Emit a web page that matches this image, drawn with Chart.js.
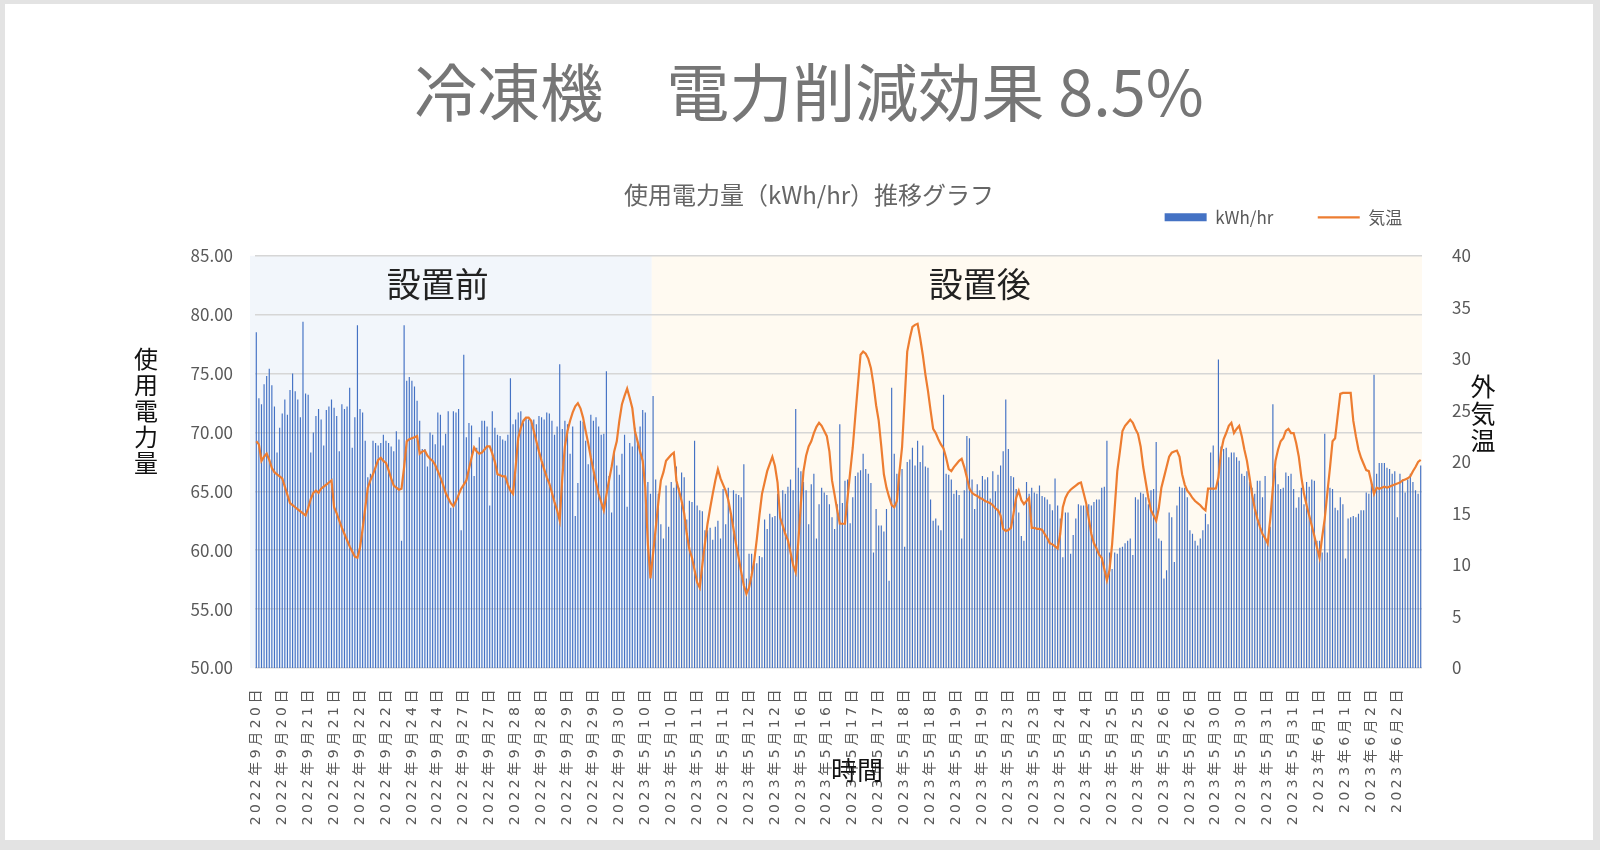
<!DOCTYPE html>
<html lang="ja">
<head>
<meta charset="utf-8">
<title>冷凍機 電力削減効果</title>
<script src="https://cdn.jsdelivr.net/npm/chart.js@4.4.1/dist/chart.umd.min.js"></script>
<style>
  html, body { margin: 0; padding: 0; background: #fff; }
  #wrap { position: relative; width: 1600px; height: 850px; }
  #frame { position: absolute; inset: 0; border-style: solid; border-color: #e3e3e3;
           border-width: 4px 7px 10px 5px; pointer-events: none; }
</style>
</head>
<body>
<div id="wrap">
  <canvas id="chart" width="1600" height="850"></canvas>
  <div id="frame"></div>
</div>
<script>
// x axis: one label every 10 readings
const tickLabels = [
  '2022年9月20日', '2022年9月20日', '2022年9月21日', '2022年9月21日', '2022年9月22日',
  '2022年9月22日', '2022年9月24日', '2022年9月24日', '2022年9月27日', '2022年9月27日',
  '2022年9月28日', '2022年9月28日', '2022年9月29日', '2022年9月29日', '2022年9月30日',
  '2023年5月10日', '2023年5月10日', '2023年5月11日', '2023年5月11日', '2023年5月12日',
  '2023年5月12日', '2023年5月16日', '2023年5月16日', '2023年5月17日', '2023年5月17日',
  '2023年5月18日', '2023年5月18日', '2023年5月19日', '2023年5月19日', '2023年5月23日',
  '2023年5月23日', '2023年5月24日', '2023年5月24日', '2023年5月25日', '2023年5月25日',
  '2023年5月26日', '2023年5月26日', '2023年5月30日', '2023年5月30日', '2023年5月31日',
  '2023年5月31日', '2023年6月1日', '2023年6月1日', '2023年6月2日', '2023年6月2日'
];

// kWh/hr before installation (2022)
const kwhBefore = [
  78.5, 72.9, 72.4, 74.1, 74.8, 75.4, 74.0, 72.2, 68.3, 70.4,
  71.6, 72.8, 71.5, 73.6, 75.0, 73.5, 72.8, 71.3, 79.4, 73.3,
  73.2, 68.3, 70.0, 71.4, 72.0, 71.1, 68.9, 71.9, 72.2, 72.8,
  72.1, 71.4, 68.4, 72.4, 72.0, 72.2, 73.8, 68.7, 71.3, 79.1,
  72.0, 71.7, 69.3, 66.2, 66.5, 69.3, 69.1, 68.9, 69.1, 69.8,
  69.3, 69.1, 68.8, 68.4, 70.1, 69.4, 60.8, 79.1, 74.4, 74.7,
  74.4, 73.9, 72.7, 71.0, 68.6, 68.6, 67.1, 70.0, 69.8, 69.0,
  71.7, 71.5, 68.9, 69.9, 71.8, 63.6, 71.8, 71.7, 72.0, 61.7,
  76.6, 69.6, 70.8, 70.6, 66.3, 68.7, 69.6, 71.0, 71.0, 70.5,
  63.8, 71.8, 70.4, 69.8, 69.7, 69.4, 69.3, 69.8, 74.6, 70.7,
  71.1, 71.7, 71.8, 70.8, 71.3, 71.1, 71.0, 71.1, 70.7, 71.4,
  71.3, 71.1, 71.7, 71.6, 71.0, 69.8, 70.5, 75.8, 70.3, 71.0,
  70.7, 68.2, 70.5, 62.9, 65.7, 71.0, 70.9, 69.3, 67.3, 71.5,
  71.0, 71.3, 70.5, 69.8, 69.9, 75.2, 66.3, 63.2, 68.3, 67.2,
  66.4, 68.2, 69.8, 63.7, 69.1, 68.8, 70.4, 69.3, 70.5, 71.9,
  71.7, 65.8, 64.8
];

// kWh/hr after installation (2023)
const kwhAfter = [
  73.1, 66.0, 64.8, 62.2, 61.0, 65.5, 62.0, 65.8, 65.3, 67.1,
  65.3, 66.6, 66.2, 62.6, 64.2, 64.1, 69.3, 63.8, 63.4, 63.3,
  61.7, 61.7, 61.9, 60.9, 62.0, 62.5, 61.0, 65.2, 62.2, 65.3,
  63.0, 65.1, 64.8, 64.7, 64.5, 67.3, 57.6, 59.7, 59.7, 58.9,
  58.9, 59.5, 59.4, 62.6, 61.8, 63.1, 62.8, 62.9, 64.8, 63.2,
  65.1, 64.8, 65.4, 66.0, 65.1, 72.0, 67.0, 66.7, 65.8, 65.1,
  62.2, 65.6, 66.5, 61.0, 63.9, 65.3, 64.9, 64.7, 63.9, 62.8,
  61.8, 63.9, 70.7, 64.0, 65.9, 66.0, 62.3, 64.5, 66.3, 66.6,
  66.8, 68.2, 66.9, 66.5, 65.7, 59.8, 63.5, 62.1, 62.1, 61.6,
  63.5, 57.4, 73.8, 68.2, 66.5, 66.6, 66.9, 60.3, 67.5, 67.7,
  68.7, 67.2, 69.3, 67.5, 68.9, 67.1, 67.0, 64.3, 62.5, 62.7,
  62.1, 61.7, 73.2, 66.5, 66.4, 66.0, 64.8, 65.1, 64.7, 61.0,
  65.1, 69.7, 69.5, 66.0, 63.5, 65.6, 65.1, 66.3, 66.0, 66.2,
  64.4, 66.7, 65.0, 66.4, 67.2, 68.4, 72.8, 68.6, 66.3, 66.2,
  65.2, 63.2, 61.2, 60.8, 65.8, 64.8, 65.3, 64.9, 64.8, 65.5,
  64.6, 64.5, 64.3, 63.9, 63.4, 66.1, 63.8, 62.7, 59.4, 63.2,
  63.2, 59.7, 61.3, 62.7, 63.9, 63.8, 63.8, 63.8, 63.9, 63.8,
  64.1, 64.3, 64.3, 65.3, 65.4, 69.3, 59.8, 58.4, 59.8, 59.7,
  60.2, 60.3, 60.6, 60.8, 61.0, 59.6, 64.5, 64.3, 64.9, 64.8,
  64.5, 63.9, 65.1, 65.2, 69.2, 61.0, 60.8, 57.6, 58.3, 63.2,
  62.8, 59.0, 63.8, 65.4, 65.3, 65.3, 64.5, 61.7, 61.4, 60.8,
  60.4, 61.0, 61.7, 63.1, 62.2, 68.3, 68.9, 65.1, 76.2, 68.8,
  68.6, 68.7, 67.9, 68.3, 68.3, 67.9, 67.6, 66.5, 66.3, 66.7,
  65.8, 65.3, 64.8, 65.9, 65.9, 64.5, 66.3, 60.7, 62.0, 72.4,
  67.0, 65.6, 65.2, 65.3, 66.6, 66.3, 66.5, 65.2, 63.6, 64.5,
  65.3, 63.9, 65.8, 65.4, 66.0, 65.9, 60.8, 60.8, 59.8, 69.9,
  59.8, 65.3, 65.2, 63.6, 63.4, 64.5, 63.9, 59.3, 62.7, 62.8,
  62.9, 62.8, 63.1, 63.4, 63.4, 64.9, 64.8, 65.8, 74.9, 66.5,
  67.4, 67.4, 67.4, 67.0, 66.9, 66.5, 66.7, 62.8, 66.5, 66.0,
  64.9, 66.0, 66.5, 65.8, 65.1, 64.8, 67.2
];

// outside air temperature, same time steps
const temperature = [
  22.0, 21.7, 20.1, 20.5, 20.8, 20.2, 19.4, 19.0, 18.8, 18.6,
  18.4, 17.6, 16.8, 16.0, 15.8, 15.6, 15.4, 15.2, 15.0, 14.8,
  15.5, 16.4, 17.0, 17.2, 17.0, 17.4, 17.6, 17.8, 18.0, 18.2,
  15.6, 15.0, 14.3, 13.6, 13.0, 12.4, 11.8, 11.3, 10.8, 10.7,
  11.7, 13.5, 15.5, 17.5, 18.2, 18.8, 19.5, 20.2, 20.4, 20.1,
  19.9, 19.2, 18.4, 17.7, 17.5, 17.3, 17.4, 19.5, 22.0, 22.2,
  22.3, 22.4, 22.5, 20.8, 21.0, 21.1, 20.6, 20.3, 20.1, 19.7,
  19.1, 18.5, 17.8, 17.0, 16.5, 16.0, 15.7, 16.2, 16.8, 17.4,
  17.8, 18.2, 19.3, 20.4, 21.4, 21.0, 20.8, 20.9, 21.2, 21.5,
  21.5, 20.8, 20.0, 18.8, 18.7, 18.6, 18.6, 17.8, 17.2, 16.9,
  19.5, 22.3, 23.3, 24.0, 24.3, 24.3, 24.0, 23.0, 22.0, 21.0,
  20.1, 19.3, 18.5, 17.9, 17.0, 16.1, 15.3, 14.3, 18.5, 21.5,
  23.0, 24.0, 24.8, 25.4, 25.7, 25.2, 24.3, 23.0, 21.8, 20.4,
  19.2, 18.0, 16.9, 16.1, 15.3, 16.8, 18.2, 19.5, 21.0, 22.0,
  24.0, 25.6, 26.4, 27.1, 26.2, 25.2, 23.0, 22.0, 21.0, 20.1,
  17.5, 12.0, 8.7, 11.1, 13.5, 16.0, 18.2, 19.0, 20.1, 20.4,
  20.7, 20.9, 18.2, 17.2, 16.2, 15.0, 13.0, 11.5, 10.7, 9.5,
  8.3, 7.8, 10.0, 12.1, 14.0, 15.5, 16.9, 18.2, 19.3, 18.4,
  17.8, 17.2, 16.3, 15.0, 13.5, 12.0, 10.7, 9.3, 8.0, 7.2,
  7.8, 9.0, 10.4, 12.5, 14.8, 16.9, 18.0, 19.1, 19.8, 20.5,
  19.6, 18.0, 14.6, 13.8, 13.0, 12.4, 11.2, 10.0, 9.3, 12.2,
  16.0, 19.1, 20.6, 21.5, 22.0, 22.8, 23.4, 23.8, 23.5, 23.0,
  22.5, 21.0, 18.2, 16.8, 15.3, 14.0, 14.0, 14.0, 16.5, 19.0,
  21.4, 24.5, 27.5, 30.4, 30.7, 30.5, 30.0, 29.1, 27.5, 25.5,
  24.0, 21.5, 18.8, 17.5, 16.6, 15.8, 15.6, 16.2, 19.0, 21.4,
  26.0, 30.7, 32.0, 33.1, 33.3, 33.4, 32.0, 30.4, 28.5, 26.9,
  25.0, 23.2, 22.8, 22.2, 21.7, 21.3, 20.4, 19.3, 19.1, 19.5,
  19.8, 20.1, 20.3, 19.5, 18.5, 17.4, 17.0, 16.8, 16.7, 16.5,
  16.4, 16.2, 16.1, 16.0, 15.8, 15.5, 15.3, 14.8, 13.5, 13.3,
  13.4, 13.6, 15.0, 16.5, 17.2, 16.3, 15.9, 16.2, 16.5, 13.6,
  13.6, 13.5, 13.5, 13.4, 13.0, 12.6, 12.1, 12.0, 11.8, 11.6,
  13.0, 15.6, 16.5, 17.0, 17.3, 17.5, 17.7, 17.9, 18.0, 17.0,
  16.0, 14.5, 13.0, 12.1, 11.6, 11.0, 10.7, 9.6, 8.5, 9.5,
  12.0, 15.5, 19.1, 21.0, 23.0, 23.5, 23.8, 24.1, 23.8, 23.2,
  22.7, 21.5, 19.5, 18.0, 16.5, 15.3, 14.8, 14.3, 15.5, 17.5,
  18.5, 19.5, 20.5, 20.9, 21.0, 21.1, 20.5, 18.8, 17.8, 17.2,
  16.9, 16.5, 16.2, 16.0, 15.8, 15.5, 15.3, 17.4, 17.4, 17.4,
  17.4, 18.5, 21.0, 22.2, 22.8, 23.5, 23.8, 22.8, 23.2, 23.5,
  22.5, 21.2, 20.1, 18.5, 16.8, 15.5, 14.5, 13.7, 13.0, 12.6,
  12.1, 14.5, 17.5, 20.1, 21.2, 22.0, 22.3, 23.0, 23.2, 22.8,
  22.8, 21.8, 20.5, 18.5, 16.9, 15.8, 14.8, 13.8, 12.8, 11.7,
  10.7, 12.7, 14.5, 17.0, 19.4, 22.0, 22.3, 24.5, 26.6, 26.7,
  26.7, 26.7, 26.7, 24.0, 22.5, 21.2, 20.4, 19.8, 19.2, 19.1,
  18.0, 16.9, 17.5, 17.4, 17.5, 17.6, 17.5, 17.6, 17.7, 17.8,
  17.9, 18.0, 18.2, 18.3, 18.4, 18.6, 19.1, 19.5, 20.0, 20.2
];

const kwh = kwhBefore.concat(kwhAfter);
const perLabel = 10;
const labels = kwh.map((v, i) => tickLabels[Math.floor(i / perLabel)]);

const CJK = "'Noto Sans CJK JP', sans-serif";
const GRAY = '#595959';

// shaded "before" / "after" areas behind the grid
const periodShade = {
  id: 'periodShade',
  beforeDraw(chart) {
    const { ctx, chartArea: a, scales: { x, y } } = chart;
    const n = kwhBefore.length;
    const split = (x.getPixelForValue(n - 1) + x.getPixelForValue(n)) / 2;
    const top = y.getPixelForValue(85);
    ctx.save();
    ctx.fillStyle = '#F2F6FB';
    ctx.fillRect(a.left - 5, top, split - a.left + 5, a.bottom - top);
    ctx.fillStyle = '#FFFAF1';
    ctx.fillRect(split, top, a.right - split, a.bottom - top);
    ctx.restore();
  }
};

// wider spacing for the rotated date labels
const spacedTicks = {
  id: 'spacedTicks',
  beforeDraw(chart) {
    const sc = chart.scales.x;
    if (sc._spaced) return;
    const orig = sc.drawLabels;
    sc.drawLabels = function (area) {
      this.ctx.save();
      this.ctx.letterSpacing = '3.5px';
      orig.call(this, area);
      this.ctx.restore();
    };
    sc._spaced = true;
  }
};

function stacked(ctx, text, cx, cy, step) {
  const chars = Array.from(text);
  const y0 = cy - (chars.length - 1) * step / 2;
  chars.forEach((ch, i) => ctx.fillText(ch, cx, y0 + i * step));
}

// period names and axis titles
const notes = {
  id: 'notes',
  afterDraw(chart) {
    const { ctx, scales: { x, y } } = chart;
    ctx.save();
    ctx.textAlign = 'center';
    ctx.textBaseline = 'middle';
    ctx.fillStyle = '#222';
    ctx.font = '34px ' + CJK;
    ctx.fillText('設置前', x.getPixelForValue(70), y.getPixelForValue(82.6));
    ctx.fillText('設置後', x.getPixelForValue(279), y.getPixelForValue(82.6));
    ctx.fillStyle = '#111';
    ctx.font = '24px ' + CJK;
    stacked(ctx, '使用電力量', 146, 411, 26);
    ctx.font = '25px ' + CJK;
    stacked(ctx, '外気温', 1483, 413, 27);
    ctx.font = '26px ' + CJK;
    ctx.fillText('時間', 857, 770);
    ctx.restore();
  }
};

new Chart(document.getElementById('chart'), {
  type: 'bar',
  data: {
    labels: labels,
    datasets: [
      {
        type: 'bar',
        label: 'kWh/hr',
        data: kwh,
        xAxisID: 'x',
        yAxisID: 'y',
        backgroundColor: '#4472C4',
        borderWidth: 0,
        barPercentage: 0.45,
        categoryPercentage: 1,
        pointStyle: 'rect',
        order: 1
      },
      {
        type: 'line',
        label: '気温',
        data: temperature,
        xAxisID: 'x',
        yAxisID: 'y1',
        borderColor: '#ED7D31',
        backgroundColor: '#ED7D31',
        borderWidth: 2.2,
        pointRadius: 0,
        pointStyle: 'line',
        tension: 0,
        order: 0
      }
    ]
  },
  options: {
    responsive: false,
    animation: false,
    layout: { padding: { top: 10, left: 118, right: 100, bottom: 10 } },
    plugins: {
      title: {
        display: true,
        text: '冷凍機　電力削減効果 8.5%',
        color: '#767676',
        font: { family: CJK, size: 63, weight: 'normal', lineHeight: 1.2 },
        padding: { top: 44, bottom: 0 }
      },
      subtitle: {
        display: true,
        text: '使用電力量（kWh/hr）推移グラフ',
        color: '#666',
        font: { family: CJK, size: 24, lineHeight: 0.6 },
        padding: { top: 57.8, bottom: 0 }
      },
      legend: {
        position: 'top',
        align: 'end',
        fullSize: false,
        labels: {
          usePointStyle: true,
          pointStyleWidth: 42,
          boxHeight: 8,
          padding: 7,
          color: GRAY,
          font: { family: CJK, size: 17 },
          sort: (a, b) => a.datasetIndex - b.datasetIndex,
          generateLabels(chart) {
            const items = Chart.defaults.plugins.legend.labels.generateLabels(chart);
            items.forEach(it => {
              it.text += it.datasetIndex === 0 ? '\u2003\u2003\u2009' : '\u2002\u2005';
            });
            return items;
          }
        }
      },
      tooltip: { enabled: false }
    },
    scales: {
      x: {
        position: 'bottom',
        grid: { display: false },
        border: { display: false },
        ticks: {
          autoSkip: false,
          minRotation: 90,
          maxRotation: 90,
          padding: 10,
          color: GRAY,
          font: { family: "'DejaVu Sans', 'Noto Sans CJK JP', sans-serif", size: 14 },
          callback(value, index) {
            return index % perLabel === 0 ? this.getLabelForValue(value) : null;
          }
        },
        afterFit(s) { s.height = 172; }
      },
      xTop: {
        type: 'category',
        position: 'top',
        grid: { display: false },
        border: { display: false },
        ticks: { display: false },
        afterFit(s) { s.height = 20; }
      },
      y: {
        position: 'left',
        min: 50,
        max: 85,
        ticks: {
          stepSize: 5,
          padding: 22,
          color: GRAY,
          font: { family: CJK, size: 17 },
          callback: v => v.toFixed(2)
        },
        grid: { color: '#d6d6d6', lineWidth: 1.5, drawTicks: false },
        border: { display: false },
        afterFit(s) { s.width = 137; }
      },
      y1: {
        position: 'right',
        min: 0,
        max: 40,
        ticks: {
          stepSize: 5,
          padding: 22,
          color: GRAY,
          font: { family: CJK, size: 17 }
        },
        grid: { display: false },
        border: { display: false },
        afterFit(s) { s.width = 78; }
      }
    }
  },
  plugins: [periodShade, spacedTicks, notes]
});
</script>
</body>
</html>
